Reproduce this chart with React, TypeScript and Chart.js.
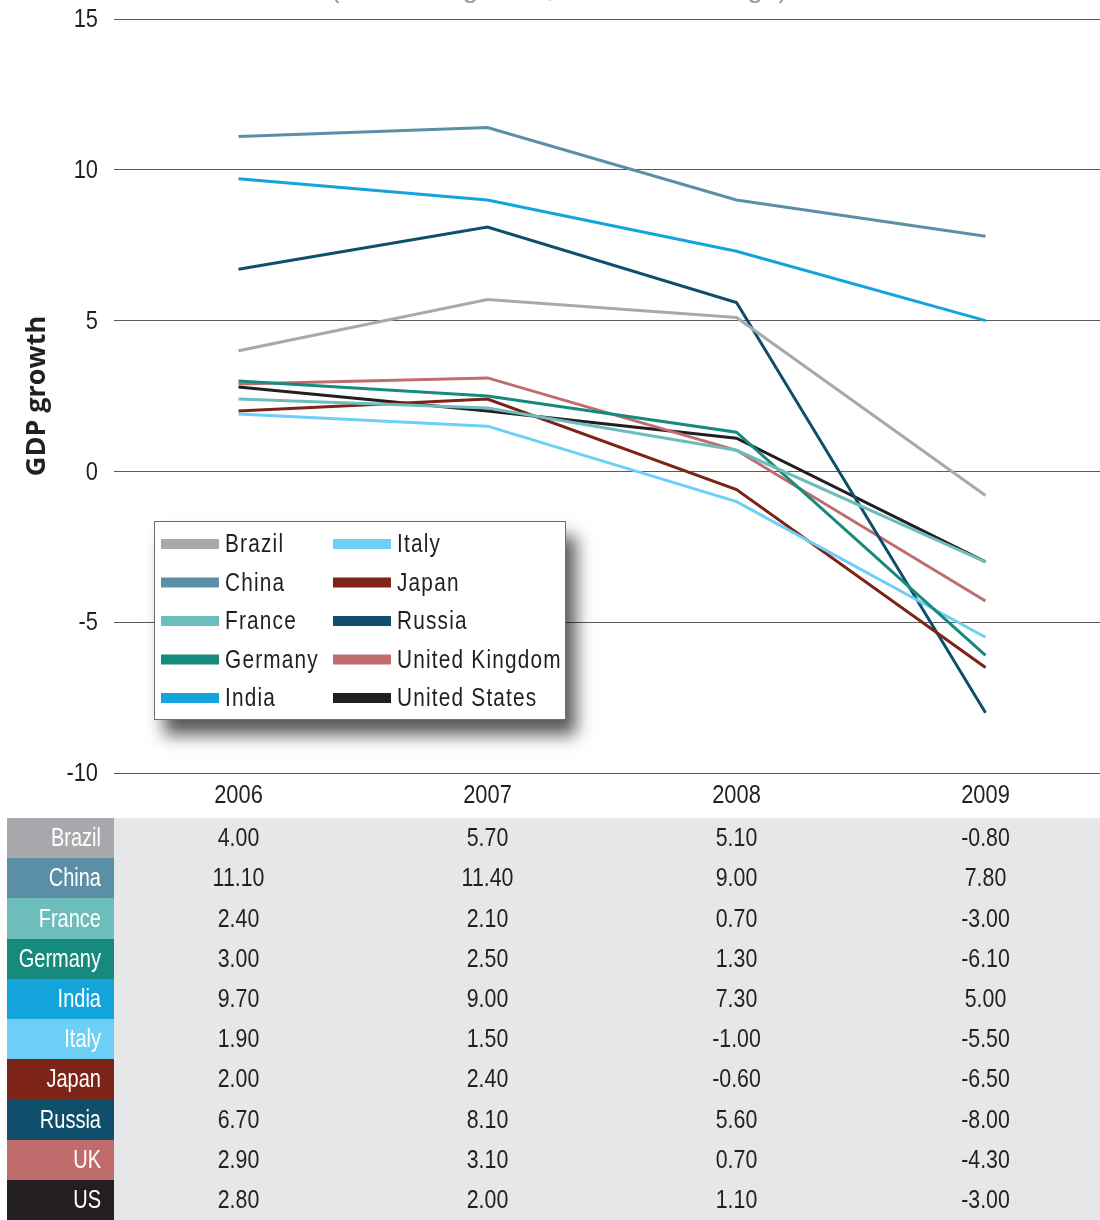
import React, { useEffect, useRef } from "react";
import { Chart, registerables } from "chart.js";

Chart.register(...registerables);

const years = ["2006", "2007", "2008", "2009"];
const countries = ["Brazil", "China", "France", "Germany", "India", "Italy", "Japan", "Russia", "United Kingdom", "United States"];
const shortNames = ["Brazil", "China", "France", "Germany", "India", "Italy", "Japan", "Russia", "UK", "US"];
const colors = ["#a7a9ac", "#5b8fa8", "#6dbdbd", "#178a7e", "#14a4dc", "#6dcff6", "#7d2318", "#0f4f6b", "#c06c6c", "#231f20"];

const brazil = [4.0, 5.7, 5.1, -0.8];
const china = [11.1, 11.4, 9.0, 7.8];
const france = [2.4, 2.1, 0.7, -3.0];
const germany = [3.0, 2.5, 1.3, -6.1];
const india = [9.7, 9.0, 7.3, 5.0];
const italy = [1.9, 1.5, -1.0, -5.5];
const japan = [2.0, 2.4, -0.6, -6.5];
const russia = [6.7, 8.1, 5.6, -8.0];
const uk = [2.9, 3.1, 0.7, -4.3];
const us = [2.8, 2.0, 1.1, -3.0];

const yMin = -10;
const yMax = 15;
const yStep = 5;

const yTitle = "GDP growth";
const topTitle = "(real GDP growth, annual % change)";

const FONT = "'Liberation Sans', Arimo, sans-serif";
const TEXT = "#231f20";

const series = [brazil, china, france, germany, india, italy, japan, russia, uk, us];

function condText(ctx: any, text: string, x: number, y: number, align: string, sx: number, size = 26, color = TEXT, spacing = "0px") {
  ctx.save();
  ctx.translate(x, y);
  ctx.scale(sx, 1);
  ctx.font = `${size}px ${FONT}`;
  ctx.fillStyle = color;
  ctx.textAlign = align;
  ctx.textBaseline = "middle";
  try { ctx.letterSpacing = spacing; } catch (e) {}
  ctx.fillText(text, 0, 0);
  ctx.restore();
}

const overlayPlugin = {
  id: "overlay",
  afterDatasetsDraw(chart: any) {
    const ctx = chart.ctx;
    const ds = chart.data.datasets;
    const xs = chart.scales.x;
    const ys = chart.scales.y;
    // y tick labels
    ys.ticks.forEach((t: any) => {
      condText(ctx, String(t.value), 98, ys.getPixelForValue(t.value) + 1, "right", 0.84, 26);
    });
    // x tick labels
    chart.data.labels.forEach((lab: string, i: number) => {
      condText(ctx, lab, xs.getPixelForValue(i), 796, "center", 0.84, 26);
    });
    // legend box
    const bx = 154, by = 521, bw = 412, bh = 199;
    ctx.save();
    ctx.shadowColor = "rgba(0,0,0,0.65)";
    ctx.shadowBlur = 16;
    ctx.shadowOffsetX = 10;
    ctx.shadowOffsetY = 15;
    ctx.fillStyle = "#ffffff";
    ctx.fillRect(bx, by, bw, bh);
    ctx.restore();
    ctx.save();
    ctx.fillStyle = "#ffffff";
    ctx.fillRect(bx, by, bw, bh);
    ctx.strokeStyle = "#6d6e71";
    ctx.lineWidth = 1;
    ctx.strokeRect(bx + 0.5, by + 0.5, bw - 1, bh - 1);
    ctx.restore();
    const perCol = Math.ceil(ds.length / 2);
    ds.forEach((d: any, i: number) => {
      const col = Math.floor(i / perCol);
      const row = i % perCol;
      const sx = col === 0 ? 161 : 333;
      const cy = 544 + row * 38.5;
      ctx.fillStyle = d.borderColor;
      ctx.fillRect(sx, cy - 5, 58, 10);
      condText(ctx, d.label, sx + 64, cy + 1, "left", 0.8, 26, TEXT, "1.5px");
    });
  },
  afterDraw(chart: any) {
    const ctx = chart.ctx;
    const xs = chart.scales.x;
    const ds = chart.data.datasets;
    const top = 818;
    const bottom = 1220;
    const rowH = (bottom - top) / ds.length;
    ctx.save();
    ctx.fillStyle = "#e6e7e8";
    ctx.fillRect(114, top, chart.width - 114, bottom - top);
    ctx.restore();
    ds.forEach((d: any, i: number) => {
      const y0 = top + i * rowH;
      ctx.fillStyle = d.borderColor;
      ctx.fillRect(7, Math.round(y0), 107, Math.round(y0 + rowH) - Math.round(y0));
      const mid = y0 + rowH / 2 + 1;
      condText(ctx, shortNames[i], 101, mid, "right", 0.77, 26, "#ffffff");
      d.data.forEach((v: number, j: number) => {
        condText(ctx, v.toFixed(2), xs.getPixelForValue(j), mid, "center", 0.82, 26);
      });
    });
    // clipped top title
    ctx.save();
    ctx.fillStyle = "#9a9a9a";
    ctx.textAlign = "center";
    ctx.textBaseline = "alphabetic";
    ctx.font = `28px ${FONT}`;
    ctx.fillText(topTitle, 559, -3);
    ctx.restore();
  },
};

export default function App() {
  const ref = useRef<HTMLCanvasElement>(null);
  useEffect(() => {
    document.body.style.margin = "0";
    const canvas = ref.current!;
    const chart = new Chart(canvas, {
      type: "line",
      data: {
        labels: years,
        datasets: series.map((s, i) => ({
          label: countries[i],
          data: s,
          borderColor: colors[i],
          backgroundColor: colors[i],
          borderWidth: 3,
          pointRadius: 0,
          tension: 0,
          fill: false,
        })),
      },
      options: {
        responsive: false,
        devicePixelRatio: 1,
        animation: false,
        layout: { padding: { top: 19, left: 0, right: 0, bottom: 0 } },
        plugins: {
          legend: { display: false },
          tooltip: { enabled: false },
          title: { display: false },
        },
        scales: {
          x: {
            type: "category",
            offset: true,
            grid: { display: false, drawTicks: false },
            border: { display: false },
            ticks: { display: false },
            afterFit: (scale: any) => {
              scale.height = 1220 - 773;
            },
          },
          y: {
            min: yMin,
            max: yMax,
            grid: { color: "#58595b", lineWidth: 1, drawTicks: false },
            border: { display: false },
            ticks: { display: false, stepSize: yStep },
            title: {
              display: true,
              text: yTitle,
              color: TEXT,
              font: { family: "'Open Sans', 'DejaVu Sans', sans-serif", size: 27, weight: "bold" },
              padding: { top: 21, bottom: 0 },
            },
            afterFit: (scale: any) => {
              scale.width = 114;
            },
          },
        },
      },
      plugins: [overlayPlugin],
    });
    return () => chart.destroy();
  }, []);
  return (
    <div style={{ width: 1100, height: 1220, overflow: "hidden", position: "relative" }}>
      <canvas ref={ref} width={1110} height={1220} style={{ display: "block" }} />
    </div>
  );
}
